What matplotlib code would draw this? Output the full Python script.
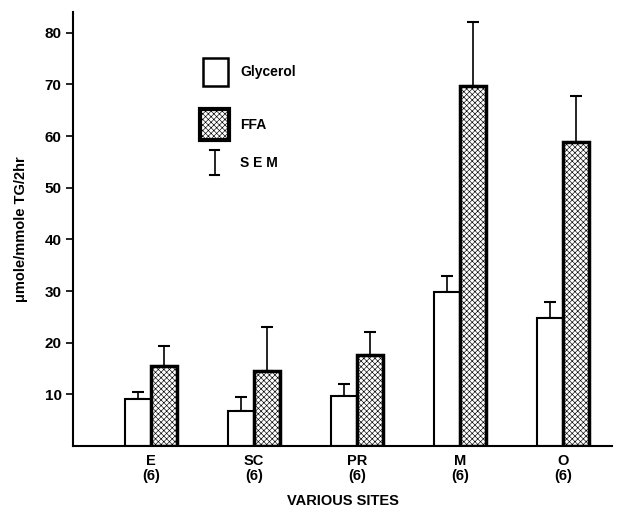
import numpy as np
import matplotlib
matplotlib.use('Agg')
import matplotlib.pyplot as plt
from matplotlib.patches import Rectangle

plt.rcParams['font.family'] = ['Liberation Sans', 'DejaVu Sans']
plt.rcParams['font.weight'] = 'bold'
plt.rcParams['axes.labelweight'] = 'bold'
plt.rcParams['hatch.linewidth'] = 0.45

# Data
sites = ['E\n(6)', 'SC\n(6)', 'PR\n(6)', 'M\n(6)', 'O\n(6)']
glycerol = [9.1, 6.8, 9.7, 29.8, 24.8]
glycerol_sem = [1.3, 2.7, 2.3, 3.2, 3.1]
ffa = [15.5, 14.5, 17.6, 69.8, 58.8]
ffa_sem = [3.9, 8.5, 4.4, 12.4, 8.9]
y_ticks = [10, 20, 30, 40, 50, 60, 70, 80]

x = np.arange(len(sites))
width = 0.25

fig = plt.figure(figsize=(6.28, 5.09), dpi=100)
ax = fig.add_axes([0.116, 0.124, 0.859, 0.852])

# Glycerol bars (open)
ax.bar(x - width / 2, glycerol, width, color='white', edgecolor='black', linewidth=1.5, zorder=2)
ax.errorbar(x - width / 2, glycerol, yerr=[np.zeros(len(x)), glycerol_sem],
            fmt='none', ecolor='black', elinewidth=1.2, capsize=4, capthick=1.5, zorder=1)

# FFA bars (stippled)
ax.bar(x + width / 2, ffa, width, color='white', edgecolor='black', hatch='xxxxxx', linewidth=2.5, zorder=2)
ax.errorbar(x + width / 2, ffa, yerr=[np.zeros(len(x)), ffa_sem],
            fmt='none', ecolor='black', elinewidth=1.2, capsize=4, capthick=1.5, zorder=1)

ax.set_xlim(-0.76, 4.48)
ax.set_ylim(0, 84)
ax.set_yticks(y_ticks)
ax.set_xticks(x)
ax.set_xticklabels(sites, fontsize=10.5, linespacing=1.1)
ax.tick_params(axis='x', length=0, pad=6)
ax.tick_params(axis='y', length=5, width=1.2, labelsize=11, pad=3)

ax.spines['top'].set_visible(False)
ax.spines['right'].set_visible(False)
ax.spines['left'].set_linewidth(1.5)
ax.spines['bottom'].set_linewidth(1.5)

ax.set_xlabel('VARIOUS SITES', fontsize=10.5, labelpad=8)
ax.set_ylabel('\u03bcmole/mmole TG/2hr', fontsize=10.5, labelpad=12)

# Hand-drawn style key
ax.add_patch(Rectangle((0.241, 0.829), 0.046, 0.065, transform=ax.transAxes,
                       facecolor='white', edgecolor='black', linewidth=1.8, clip_on=False))
ax.add_patch(Rectangle((0.236, 0.705), 0.054, 0.071, transform=ax.transAxes,
                       facecolor='white', edgecolor='black', hatch='xxxxxx', linewidth=3, clip_on=False))
ax.plot([0.263, 0.263], [0.624, 0.682], transform=ax.transAxes, color='black', lw=1.2)
ax.plot([0.255, 0.271], [0.682, 0.682], transform=ax.transAxes, color='black', lw=1.5)
ax.plot([0.255, 0.271], [0.624, 0.624], transform=ax.transAxes, color='black', lw=1.5)
ax.text(0.31, 0.862, 'Glycerol', transform=ax.transAxes, fontsize=10, va='center')
ax.text(0.31, 0.740, 'FFA', transform=ax.transAxes, fontsize=10, va='center')
ax.text(0.31, 0.652, 'S E M', transform=ax.transAxes, fontsize=10, va='center')

fig.savefig('out.png', dpi=100)
